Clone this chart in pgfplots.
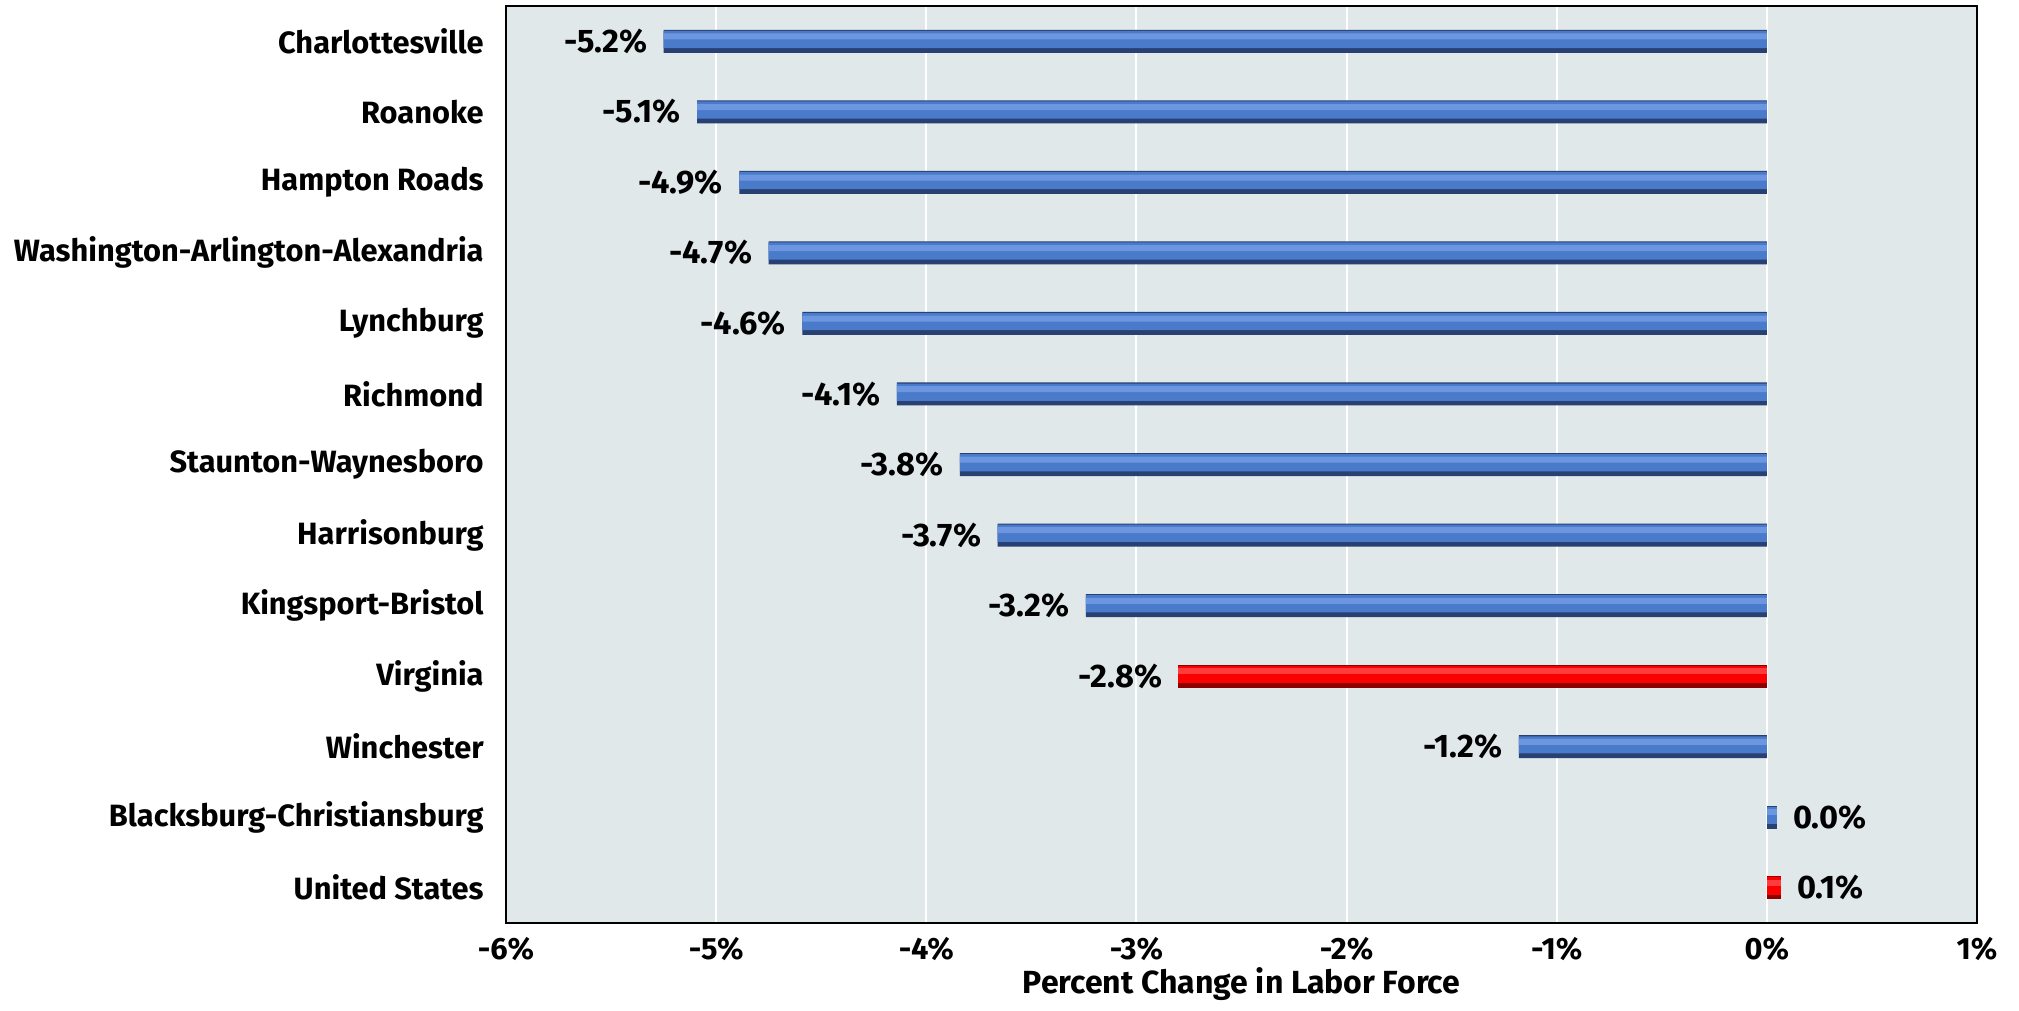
\documentclass[border=0pt]{standalone}
\usepackage{pgfplots}
\usepackage{pgfplotstable}
\pgfplotsset{compat=1.18}
\usepackage{fontspec}
\setmainfont{Fira Sans}
\definecolor{bgc}{RGB}{224,232,233}
\definecolor{blueT}{RGB}{108,150,224}
\definecolor{blueM}{RGB}{74,122,202}
\definecolor{blueB}{RGB}{40,64,114}
\definecolor{redT}{RGB}{255,60,60}
\definecolor{redM}{RGB}{250,0,0}
\definecolor{redB}{RGB}{140,0,0}

% x = change, y = category index, lab = printed value
\pgfplotstableread{
x y lab
-5.25 0 -5.2\%
-5.09 1 -5.1\%
-4.89 2 -4.9\%
-4.75 3 -4.7\%
-4.59 4 -4.6\%
-4.14 5 -4.1\%
-3.84 6 -3.8\%
-3.66 7 -3.7\%
-3.24 8 -3.2\%
-1.18 10 -1.2\%
}\bluneg
\pgfplotstableread{
x y lab
0.047 11 0.0\%
}\blupos
\pgfplotstableread{
x y lab
-2.80 9 -2.8\%
}\redneg
\pgfplotstableread{
x y lab
0.066 12 0.1\%
}\redpos

\begin{document}
\begin{tikzpicture}[font=\bfseries]
\begin{axis}[
  xbar, bar width=11.5pt, bar shift=0pt,
  scale only axis, width=735.5pt, height=458.5pt,
  xmin=-6, xmax=1, ymin=-0.5, ymax=12.5, y dir=reverse,
  ytick={0,...,12},
  yticklabels={Charlottesville, Roanoke, Hampton Roads,
    Washington-Arlington-Alexandria, Lynchburg, Richmond,
    Staunton-Waynesboro, Harrisonburg, Kingsport-Bristol, Virginia,
    Winchester, Blacksburg-Christiansburg, United States},
  xtick={-6,-5,-4,-3,-2,-1,0,1},
  xticklabels={-6\%,-5\%,-4\%,-3\%,-2\%,-1\%,0\%,1\%},
  axis background/.style={fill=bgc},
  xmajorgrids, grid style={white, line width=1pt},
  axis line style={black, line width=1.3pt},
  major tick length=0pt,
  tick label style={font=\fontsize{15.4}{17}\selectfont\bfseries},
  yticklabel style={inner xsep=11pt},
  xticklabel style={inner ysep=7pt},
  xlabel={Percent Change in Labor Force},
  xlabel style={font=\fontsize{16}{18}\selectfont\bfseries, yshift=7pt},
  point meta=explicit symbolic,
  nodes near coords style={font=\fontsize{16.3}{18}\selectfont\bfseries, text=black, inner xsep=8pt},
  base/.style={draw=none, fill=#1, bar width=11.5pt, bar shift=0pt},
  mid/.style={draw=none, fill=#1, bar width=8.6pt, bar shift=0.9pt},
  hi/.style={draw=none, fill=#1, bar width=3pt, bar shift=2.4pt},
]
% blue bars, layered to give the bevel
\addplot[base=blueB, nodes near coords, every node near coord/.append style={anchor=east}] table[x=x, y=y, meta=lab] {\bluneg};
\addplot[mid=blueM] table[x=x, y=y] {\bluneg};
\addplot[hi=blueT] table[x=x, y=y] {\bluneg};
\addplot[base=blueB, nodes near coords, every node near coord/.append style={anchor=west}] table[x=x, y=y, meta=lab] {\blupos};
\addplot[mid=blueM] table[x=x, y=y] {\blupos};
\addplot[hi=blueT] table[x=x, y=y] {\blupos};
% red bars
\addplot[base=redB, nodes near coords, every node near coord/.append style={anchor=east}] table[x=x, y=y, meta=lab] {\redneg};
\addplot[mid=redM] table[x=x, y=y] {\redneg};
\addplot[hi=redT] table[x=x, y=y] {\redneg};
\addplot[base=redB, nodes near coords, every node near coord/.append style={anchor=west}] table[x=x, y=y, meta=lab] {\redpos};
\addplot[mid=redM] table[x=x, y=y] {\redpos};
\addplot[hi=redT] table[x=x, y=y] {\redpos};
\end{axis}
\pgfresetboundingbox
\path (current axis.south west) ++(-253pt,-43.5pt) coordinate (bbA);
\path (current axis.north east) ++(21pt,3pt) coordinate (bbB);
\useasboundingbox (bbA) rectangle (bbB);
\end{tikzpicture}
\end{document}
